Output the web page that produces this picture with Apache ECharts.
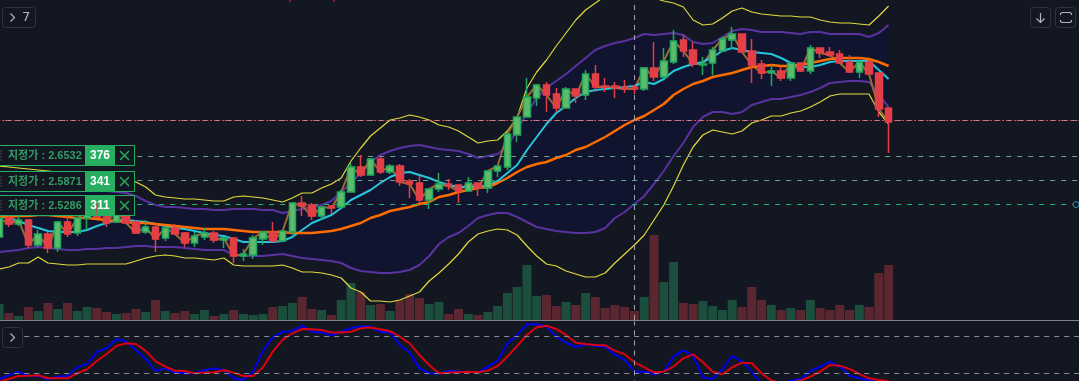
<!DOCTYPE html>
<html>
<head>
<meta charset="utf-8">
<title>chart</title>
<style>
html, body { margin: 0; padding: 0; background: #131722; overflow: hidden; }
#main { width: 1079px; height: 381px; }
</style>
<script src="https://cdn.jsdelivr.net/npm/echarts@6/dist/echarts.min.js"></script>
</head>
<body>
<div id="main"></div>
<script>
// candles
var opens = [2.4475,2.495,2.48,2.49,2.4275,2.455,2.42,2.485,2.4575,2.495,2.51,2.505,2.485,2.515,2.485,2.46,2.4725,2.445,2.47,2.4575,2.4325,2.4475,2.4575,2.44,2.445,2.40,2.4025,2.4425,2.46,2.4375,2.46,2.5325,2.5275,2.50,2.525,2.5225,2.56,2.6225,2.6025,2.6425,2.61,2.625,2.5875,2.5825,2.54,2.5675,2.58,2.5775,2.5625,2.5825,2.57,2.6125,2.6225,2.7025,2.7475,2.795,2.8275,2.805,2.77,2.8175,2.8025,2.855,2.825,2.825,2.8225,2.8225,2.8175,2.87,2.8475,2.885,2.94,2.915,2.8775,2.8825,2.9125,2.94,2.955,2.9125,2.88,2.8575,2.8625,2.845,2.8825,2.8625,2.92,2.91,2.905,2.885,2.86,2.885,2.8575,2.77];
var closes = [2.495,2.48,2.49,2.4275,2.455,2.42,2.485,2.455,2.495,2.51,2.4975,2.4825,2.515,2.4825,2.4575,2.4725,2.4425,2.47,2.455,2.4325,2.45,2.4575,2.44,2.445,2.40,2.405,2.445,2.46,2.4375,2.4625,2.5325,2.525,2.50,2.5225,2.52,2.56,2.6225,2.6025,2.6425,2.61,2.625,2.585,2.58,2.54,2.5675,2.58,2.575,2.5625,2.5825,2.57,2.6125,2.625,2.705,2.7475,2.7975,2.8275,2.8025,2.77,2.8175,2.80,2.855,2.8225,2.8225,2.82,2.8175,2.8175,2.87,2.8475,2.8875,2.9375,2.9125,2.88,2.88,2.915,2.9425,2.955,2.91,2.8775,2.8575,2.8625,2.845,2.8825,2.8625,2.92,2.9075,2.9025,2.8825,2.86,2.885,2.855,2.7675,2.735];
var lows = [2.44,2.4725,2.475,2.42,2.4225,2.4075,2.41,2.4475,2.45,2.465,2.495,2.4725,2.4825,2.48,2.455,2.455,2.41,2.4375,2.4525,2.4225,2.4225,2.44,2.4325,2.42,2.3825,2.3875,2.3925,2.4275,2.435,2.4375,2.4525,2.50,2.49,2.49,2.505,2.52,2.56,2.5975,2.6025,2.605,2.605,2.575,2.545,2.5325,2.5175,2.56,2.565,2.5325,2.5625,2.55,2.5575,2.5975,2.615,2.685,2.7475,2.775,2.76,2.76,2.77,2.7825,2.79,2.81,2.81,2.795,2.8075,2.805,2.8125,2.8375,2.8425,2.88,2.8975,2.8725,2.8525,2.8525,2.9125,2.9175,2.91,2.8325,2.8425,2.825,2.8375,2.8375,2.86,2.855,2.895,2.8975,2.8825,2.8575,2.845,2.855,2.7475,2.6575];
var highs = [2.50,2.51,2.505,2.4925,2.465,2.46,2.4875,2.5025,2.4975,2.515,2.5325,2.5125,2.52,2.525,2.49,2.49,2.48,2.47,2.48,2.46,2.46,2.47,2.4625,2.445,2.445,2.4175,2.4525,2.4625,2.485,2.465,2.5325,2.55,2.5325,2.5225,2.5275,2.565,2.6325,2.6525,2.645,2.6475,2.63,2.63,2.5925,2.60,2.5675,2.6075,2.5925,2.5775,2.5975,2.5825,2.6125,2.625,2.705,2.7475,2.845,2.83,2.835,2.82,2.8225,2.8175,2.865,2.8775,2.845,2.835,2.84,2.8275,2.8725,2.935,2.92,2.965,2.9525,2.935,2.8975,2.9225,2.9475,2.9725,2.955,2.9425,2.89,2.8775,2.8725,2.8825,2.8825,2.9275,2.92,2.9225,2.915,2.9025,2.885,2.89,2.86,2.77];
var volumes = [16,7,4,13,9,17,11,17,9,13,12,8,6,7,11,8,20,9,7,9,6,10,4,6,10,6,5,6,13,14,17,23,11,10,5,20,37,28,15,16,9,20,26,22,16,18,6,11,6,5,8,14,27,33,55,24,25,14,18,15,27,23,12,15,13,9,23,85,38,58,17,16,19,14,10,20,13,33,20,15,10,12,10,20,12,10,15,10,15,13,47,55];

// bands, averages
var bandUpperOuter = [2.625,2.6225,2.62,2.6175,2.615,2.6125,2.61,2.6075,2.6075,2.605,2.605,2.6025,2.60,2.595,2.585,2.5725,2.5525,2.5475,2.545,2.5425,2.5425,2.54,2.5375,2.5375,2.5475,2.55,2.5475,2.545,2.54,2.535,2.545,2.5575,2.5575,2.57,2.58,2.595,2.6375,2.67,2.70,2.72,2.74,2.745,2.7525,2.7475,2.74,2.7275,2.7225,2.7125,2.6975,2.6825,2.6875,2.69,2.7125,2.7475,2.82,2.86,2.89,2.925,2.9575,2.99,3.015,3.0325,3.05,3.065,3.07,3.06,3.05,3.045,3.0375,3.0325,3.0225,2.99,2.9775,2.98,2.995,3.0125,3.02,3.01,3.005,3.0025,3.00,3.00,2.9975,2.9975,2.99,2.985,2.9825,2.9825,2.98,2.9775,3.00,3.025];
var bandUpperInner = [2.575,2.575,2.5725,2.5725,2.57,2.57,2.5675,2.5675,2.565,2.565,2.5625,2.5625,2.56,2.5575,2.55,2.5375,2.5275,2.5225,2.5225,2.52,2.5175,2.5175,2.515,2.515,2.5175,2.5175,2.5175,2.515,2.515,2.5075,2.5125,2.5175,2.5225,2.5275,2.5375,2.56,2.5825,2.6075,2.635,2.6525,2.6625,2.67,2.675,2.6775,2.6725,2.6675,2.665,2.6625,2.655,2.645,2.65,2.655,2.675,2.715,2.7575,2.795,2.82,2.8375,2.855,2.875,2.895,2.915,2.925,2.9325,2.9375,2.945,2.955,2.9525,2.955,2.9575,2.9525,2.935,2.93,2.9325,2.9475,2.9625,2.9675,2.965,2.96,2.96,2.96,2.9575,2.955,2.96,2.96,2.955,2.955,2.955,2.955,2.9475,2.9575,2.9775];
var bandLowerInner = [2.41,2.4125,2.415,2.42,2.4225,2.42,2.4175,2.415,2.415,2.4175,2.4175,2.42,2.42,2.4225,2.425,2.425,2.4225,2.4225,2.4225,2.42,2.4175,2.415,2.415,2.415,2.4025,2.40,2.40,2.40,2.4025,2.405,2.40,2.395,2.3925,2.39,2.3875,2.3825,2.37,2.3625,2.36,2.3575,2.3575,2.36,2.365,2.3775,2.40,2.43,2.4475,2.4575,2.475,2.495,2.5025,2.5075,2.5075,2.4975,2.485,2.4725,2.4675,2.4625,2.46,2.4575,2.4575,2.46,2.47,2.495,2.51,2.53,2.55,2.58,2.6125,2.65,2.6825,2.7225,2.7475,2.76,2.76,2.755,2.76,2.7775,2.785,2.7925,2.7925,2.7975,2.8025,2.81,2.82,2.8325,2.835,2.8375,2.8375,2.835,2.8025,2.7725];
var bandLowerOuter = [2.3675,2.3725,2.3825,2.3825,2.3975,2.3825,2.38,2.3775,2.3775,2.38,2.38,2.38,2.38,2.38,2.3875,2.395,2.40,2.4025,2.40,2.395,2.395,2.3925,2.39,2.395,2.3775,2.375,2.375,2.375,2.375,2.3775,2.37,2.36,2.36,2.3575,2.3525,2.345,2.32,2.31,2.2875,2.2875,2.285,2.29,2.30,2.31,2.3375,2.3575,2.38,2.405,2.435,2.455,2.4625,2.4675,2.465,2.4525,2.425,2.40,2.38,2.375,2.3625,2.355,2.3475,2.3475,2.3575,2.3825,2.405,2.4275,2.4525,2.49,2.5275,2.575,2.6275,2.6725,2.7025,2.715,2.71,2.705,2.7125,2.7325,2.74,2.75,2.75,2.7575,2.7625,2.7725,2.785,2.80,2.805,2.805,2.805,2.805,2.76,2.73];
var maFast = [2.50,2.495,2.4875,2.4775,2.47,2.4625,2.46,2.46,2.46,2.465,2.475,2.4825,2.49,2.49,2.4875,2.485,2.48,2.475,2.47,2.4675,2.4625,2.4575,2.4525,2.45,2.4425,2.435,2.435,2.435,2.435,2.4375,2.4475,2.465,2.4825,2.4925,2.5025,2.52,2.54,2.5525,2.565,2.5825,2.5975,2.6075,2.61,2.6025,2.595,2.585,2.5775,2.5725,2.5725,2.5725,2.5775,2.5875,2.6075,2.6275,2.665,2.6975,2.73,2.7575,2.775,2.795,2.81,2.815,2.8175,2.82,2.8225,2.825,2.835,2.83,2.8425,2.8625,2.8725,2.88,2.885,2.8975,2.9125,2.92,2.915,2.91,2.9075,2.905,2.895,2.8825,2.8725,2.8725,2.8775,2.885,2.8875,2.8875,2.8875,2.8875,2.865,2.8425];
var maSlow = [2.4975,2.4975,2.5,2.5,2.5025,2.5025,2.5,2.4975,2.495,2.495,2.4925,2.49,2.4875,2.485,2.4825,2.4825,2.48,2.4775,2.475,2.4725,2.47,2.4675,2.4675,2.4675,2.465,2.4625,2.46,2.46,2.46,2.46,2.4575,2.4575,2.4575,2.46,2.4625,2.4675,2.475,2.4825,2.495,2.5025,2.5125,2.5175,2.5225,2.53,2.535,2.5475,2.5525,2.56,2.565,2.57,2.5725,2.5825,2.595,2.61,2.6225,2.63,2.635,2.645,2.6525,2.665,2.6725,2.685,2.6975,2.7125,2.7275,2.74,2.75,2.765,2.78,2.8025,2.8175,2.83,2.8375,2.8475,2.8525,2.8575,2.865,2.8725,2.875,2.8775,2.875,2.875,2.8775,2.8825,2.8875,2.8925,2.895,2.895,2.895,2.8925,2.885,2.875];

// stochastic pane
var stochK = [10.6,17,22,15.5,16,10,14.5,15.5,30,35,55,61,76,72,58,43.4,24,28,21,20,20,25,28,25,11.7,9,23,57,79,88,89,98,88,87,82,88,94,96.5,96.5,88,87,66,54,28,20,19,23.7,22.6,22.6,21,30.9,40.7,69,82.8,100.3,100.3,96.5,80,70,63,67.5,64.7,63.7,50,41.8,22.6,22.6,18.3,22.6,47.3,57.6,48.3,13.4,10.6,26.5,48.3,39,22.6,0.8,0,0,8,10,23.7,30.9,39,30.9,16,11.7,9,3.5,2];
var stochD = [6,10.6,15.5,16,16.6,11.7,11.7,11.7,20,26.5,40,51.6,64.8,69,68,56.6,40,31,24,23.8,20,21,21.6,25,21,15.5,15.5,30,55.5,74.6,85.5,92.6,92,91,86.6,86.6,88,93.7,95,92,89,80,69,50,33.6,20,21,21.6,22.6,21.6,24.3,32,47.3,64.7,82.8,95.4,98,92.6,82.8,70,68,66.4,65.8,57,51,38,29.8,21.6,22.6,30.9,44.5,51,38,22.6,18.3,29.8,37.4,36.3,20,8,4.6,4.6,8,14.5,22.6,33.6,32.5,27,18.8,11.7,9,7];
var stochLevels = [80, 20];

// orders, guides
var limitPrices = [2.6532, 2.5871, 2.5286];
var limitQtys = ['376', '341', '311'];
var limitColors = ['#6aa58e', '#6aa58e', '#22b573'];
var lastPrice = 2.73625;
var cursorPrice = 2.74125;
var cursorIndex = 65;

var categories = [];
for (var c = 0; c < 112; c++) {
	categories.push(String(c));
}

var candleData = [];
var volumeUp = [];
var volumeDown = [];
var bandBase = [];
var bandDiff = [];
for (var i = 0; i < closes.length; i++) {
	candleData.push([opens[i], closes[i], lows[i], highs[i]]);
	volumeUp.push(closes[i] >= opens[i] ? volumes[i] : null);
	volumeDown.push(closes[i] < opens[i] ? volumes[i] : null);
	bandBase.push(bandLowerInner[i]);
	bandDiff.push(bandUpperInner[i] - bandLowerInner[i]);
}

function lineSeries(name, data, color, width, z) {
	return {
		name: name,
		type: 'line',
		data: data,
		showSymbol: false,
		symbol: 'none',
		z: z,
		lineStyle: { color: color, width: width },
		silent: true
	};
}

var guideLines = [
	{ yAxis: cursorPrice, lineStyle: { color: '#a3a6ac', width: 1, type: [5, 6] } },
	{ yAxis: lastPrice, lineStyle: { color: '#e0505e', width: 1, type: [2, 2] } },
	{ xAxis: categories[cursorIndex], lineStyle: { color: '#a3a6ac', width: 1, type: [5, 5] } }
];
limitPrices.forEach(function (p, k) {
	guideLines.push({ yAxis: p, lineStyle: { color: limitColors[k], width: 1, type: [5, 6] } });
});

var guideSeries = lineSeries('guides', [], '#000', 0, 9);
guideSeries.markLine = { silent: true, symbol: 'none', label: { show: false }, data: guideLines, animation: false };

var stochGuides = lineSeries('stochGuides', [], '#000', 0, 1);
stochGuides.xAxisIndex = 1;
stochGuides.yAxisIndex = 2;
stochGuides.markLine = {
	silent: true, symbol: 'none', label: { show: false }, animation: false,
	lineStyle: { color: '#8a8d93', width: 1, type: [5, 5] },
	data: [
		{ yAxis: stochLevels[0] },
		{ yAxis: stochLevels[1] },
		{ xAxis: categories[cursorIndex], lineStyle: { color: '#a3a6ac', type: [5, 5] } }
	]
};

var kSeries = lineSeries('%K', stochK, '#0000f0', 2, 3);
kSeries.xAxisIndex = 1;
kSeries.yAxisIndex = 2;
var dSeries = lineSeries('%D', stochD, '#dd0010', 2, 4);
dSeries.xAxisIndex = 1;
dSeries.yAxisIndex = 2;

var bandBaseSeries = lineSeries('bandBase', bandBase, 'transparent', 0, 1);
bandBaseSeries.stack = 'band';
var bandFillSeries = lineSeries('bandFill', bandDiff, 'transparent', 0, 1);
bandFillSeries.stack = 'band';
bandFillSeries.areaStyle = { color: '#10142e', opacity: 1 };

var option = {
	animation: false,
	backgroundColor: '#131722',
	grid: [
		{ left: -5.8, top: 0, width: 1094.8, height: 320, outerBoundsMode: 'none' },
		{ left: -5.8, top: 321.4, width: 1094.8, height: 64.05, outerBoundsMode: 'none' }
	],
	xAxis: [
		{
			type: 'category', gridIndex: 0, data: categories, boundaryGap: true,
			axisLine: { show: true, onZero: false, lineStyle: { color: '#7f8289', width: 1 } },
			axisTick: { show: false }, axisLabel: { show: false }, splitLine: { show: false }
		},
		{
			type: 'category', gridIndex: 1, data: categories, boundaryGap: true,
			axisLine: { show: false }, axisTick: { show: false }, axisLabel: { show: false }, splitLine: { show: false }
		}
	],
	yAxis: [
		{ type: 'value', gridIndex: 0, min: 2.24, max: 3.04, show: false, splitLine: { show: false } },
		{ type: 'value', gridIndex: 0, min: 0, max: 320, show: false, splitLine: { show: false } },
		{ type: 'value', gridIndex: 1, min: 0, max: 105, show: false, splitLine: { show: false } }
	],
	series: [
		{
			name: 'volUp', type: 'bar', yAxisIndex: 1, data: volumeUp, barWidth: 9, barGap: '-100%', z: 1, silent: true,
			itemStyle: { color: '#1b4e3c' }
		},
		{
			name: 'volDown', type: 'bar', yAxisIndex: 1, data: volumeDown, barWidth: 9, barGap: '-100%', z: 1, silent: true,
			itemStyle: { color: '#5a2630' }
		},
		bandBaseSeries,
		bandFillSeries,
		lineSeries('upperOuter', bandUpperOuter, '#e2d93c', 1.2, 3),
		lineSeries('lowerOuter', bandLowerOuter, '#e2d93c', 1.2, 3),
		lineSeries('upperInner', bandUpperInner, '#58339f', 2, 3),
		lineSeries('lowerInner', bandLowerInner, '#58339f', 2, 3),
		lineSeries('close', closes, '#9c6c2f', 2, 4),
		lineSeries('maFast', maFast, '#26c6da', 2, 4),
		lineSeries('maSlow', maSlow, '#ff6d00', 2.5, 4),
		{
			name: 'candles', type: 'candlestick', data: candleData, barWidth: 7, z: 6, silent: true,
			itemStyle: {
				color: '#5dbb6b', color0: '#e23f47',
				borderColor: '#22a85e', borderColor0: '#e23f47', borderWidth: 1.5
			}
		},
		guideSeries,
		stochGuides,
		kSeries,
		dSeries
	]
};

var myChart = echarts.init(document.getElementById('main'), null, { renderer: 'canvas' });
myChart.setOption(option);

// buttons and order tags sit on top of the plot
var panelBorder = '#2f333e';
var iconColor = '#b2b5be';
var labelFont = 'Liberation Sans, Arial, Noto Sans CJK KR, sans-serif';

function button(x, y, w, h) {
	return { type: 'rect', shape: { x: x, y: y, width: w, height: h, r: 3 }, style: { fill: '#131722', stroke: panelBorder, lineWidth: 1 }, z: 50 };
}
function stroke(points, color, width) {
	return { type: 'polyline', shape: { points: points }, style: { fill: null, stroke: color || iconColor, lineWidth: width || 1.2 }, z: 51 };
}

var elements = [
	button(2.5, 7.5, 33, 20),
	stroke([[10.5, 13.5], [14.5, 17.5], [10.5, 21.5]]),
	{ type: 'text', x: 22, y: 11, z: 51, style: { text: '7', fill: iconColor, font: '13px DejaVu Sans, sans-serif' } },
	button(2.5, 327.5, 20, 20),
	stroke([[10.5, 333.5], [14.5, 337.5], [10.5, 341.5]]),
	button(1030.5, 7.5, 20, 20),
	stroke([[1040.5, 13], [1040.5, 22.5]]),
	stroke([[1036.5, 18.5], [1040.5, 22.5], [1044.5, 18.5]]),
	button(1055.5, 7.5, 20, 20),
	stroke([[1060.5, 15], [1060.5, 13.5], [1062, 12.5], [1070, 12.5], [1071.5, 13.5], [1071.5, 15]]),
	stroke([[1060.5, 20], [1060.5, 21.5], [1062, 22.5], [1070, 22.5], [1071.5, 21.5], [1071.5, 20]]),
	{ type: 'rect', shape: { x: 289.5, y: 0, width: 1.2, height: 2 }, style: { fill: '#c22a36' }, z: 51 },
	{ type: 'rect', shape: { x: 333.5, y: 0, width: 1.2, height: 2 }, style: { fill: '#c22a36' }, z: 51 }
];

limitPrices.forEach(function (p, k) {
	var cy = myChart.convertToPixel({ yAxisIndex: 0 }, p);
	var top = Math.round(cy - 10) + 0.5;
	elements.push({ type: 'rect', shape: { x: -3, y: top, width: 137.5, height: 20 }, style: { fill: '#131722', stroke: '#27ae60', lineWidth: 1 }, z: 50 });
	elements.push({ type: 'rect', shape: { x: 85, y: top, width: 30, height: 20 }, style: { fill: '#27ae60' }, z: 51 });
	elements.push({ type: 'text', x: 8, y: top + 10, z: 52, style: { text: '지정가 : ' + p.toFixed(4), fill: '#329a63', font: 'bold 11px ' + labelFont, textVerticalAlign: 'middle' } });
	elements.push({ type: 'text', x: 100, y: top + 10, z: 52, style: { text: limitQtys[k], fill: '#ffffff', font: 'bold 12px ' + labelFont, textAlign: 'center', textVerticalAlign: 'middle' } });
	elements.push(stroke([[120, top + 5.5], [129, top + 14.5]], '#27ae60', 1.4));
	elements.push(stroke([[129, top + 5.5], [120, top + 14.5]], '#27ae60', 1.4));
	elements.push({ type: 'line', shape: { x1: 1, y1: top + 5, x2: 1, y2: top + 16 }, style: { stroke: '#6f7f78', lineWidth: 1, lineDash: [1, 2] }, z: 52 });
});

// one wick shows through the tag
var wickTop = myChart.convertToPixel({ xAxisIndex: 0, yAxisIndex: 0 }, [10, highs[10]]);
var wickEnd = myChart.convertToPixel({ xAxisIndex: 0, yAxisIndex: 0 }, [10, opens[10]]);
elements.push({ type: 'line', shape: { x1: wickTop[0], y1: wickTop[1], x2: wickEnd[0], y2: wickEnd[1] + 3 }, style: { stroke: '#e23f47', lineWidth: 1 }, z: 53 });

var lastLimit = myChart.convertToPixel({ yAxisIndex: 0 }, limitPrices[2]);
elements.push({ type: 'circle', shape: { cx: 1076, cy: lastLimit, r: 3 }, style: { fill: '#131722', stroke: '#2a8fb5', lineWidth: 1 }, z: 50 });

myChart.setOption({ graphic: { elements: elements } });
</script>
</body>
</html>
